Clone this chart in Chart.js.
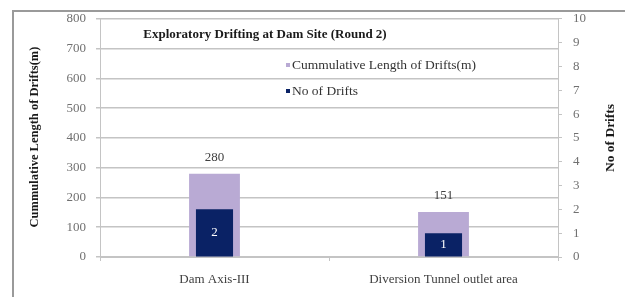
<!DOCTYPE html>
<html lang="en">
<head>
<meta charset="UTF-8">
<script src="https://cdn.jsdelivr.net/npm/chart.js@4.4.1/dist/chart.umd.min.js"></script>
<style>
  html, body { margin: 0; padding: 0; background: #fff; }
  #wrap { width: 625px; height: 297px; position: relative; }
</style>
</head>
<body>
<div id="wrap"><canvas id="chart" width="625" height="297"></canvas></div>
<script>
// chart data
const categories = ["Dam Axis-III", "Diversion Tunnel outlet area"];
const lengthLabel = "Cummulative Length of Drifts(m)";
const countLabel = "No of Drifts";
const lengthValues = [280, 151];
const countValues = [2, 1];
const leftTicks = [0, 100, 200, 300, 400, 500, 600, 700, 800];
const rightTicks = [0, 1, 2, 3, 4, 5, 6, 7, 8, 9, 10];
const chartTitle = "Exploratory Drifting at Dam Site (Round 2)";

const LIGHT = '#b9aad4';
const DARK = '#0a2265';
const GRID = '#c4c4c4';
const SERIF = '"Liberation Serif", "Times New Roman", serif';

const overlay = {
  id: 'overlay',
  beforeDraw(chart) {
    const ctx = chart.ctx;
    ctx.save();
    ctx.strokeStyle = '#9a9a9a';
    ctx.lineWidth = 2;
    ctx.beginPath();
    ctx.moveTo(13, 297);
    ctx.lineTo(13, 11);
    ctx.lineTo(625, 11);
    ctx.stroke();
    ctx.restore();
  },
  afterDatasetsDraw(chart) {
    const ctx = chart.ctx;
    ctx.save();
    ctx.textAlign = 'center';
    ctx.textBaseline = 'middle';
    // values above the light bars
    ctx.font = '13px ' + SERIF;
    ctx.fillStyle = '#404040';
    chart.getDatasetMeta(1).data.forEach((bar, i) => {
      ctx.fillText(String(lengthValues[i]), bar.x, bar.y - 16);
    });
    // counts inside the dark bars
    ctx.font = '13px ' + SERIF;
    ctx.fillStyle = '#ffffff';
    chart.getDatasetMeta(0).data.forEach((bar, i) => {
      ctx.fillText(String(countValues[i]), bar.x, (bar.y + bar.base) / 2);
    });
    ctx.restore();
  },
  afterDraw(chart) {
    const ctx = chart.ctx;
    ctx.save();
    ctx.fillStyle = '#1a1a1a';
    ctx.textBaseline = 'middle';
    // title
    ctx.textAlign = 'center';
    ctx.font = 'bold 13px ' + SERIF;
    ctx.fillText(chartTitle, 265, 35);
    // legend
    ctx.textAlign = 'left';
    ctx.font = '13.5px ' + SERIF;
    ctx.fillStyle = LIGHT;
    ctx.fillRect(286, 63, 4, 4);
    ctx.fillStyle = DARK;
    ctx.fillRect(286, 89, 4, 4);
    ctx.fillStyle = '#333';
    ctx.fillText(lengthLabel, 292, 65);
    ctx.fillText(countLabel, 292, 91);
    // axis titles
    ctx.font = 'bold 12.5px ' + SERIF;
    ctx.textAlign = 'center';
    ctx.fillStyle = '#1a1a1a';
    ctx.translate(35, 137);
    ctx.rotate(-Math.PI / 2);
    ctx.fillText(lengthLabel, 0, 0);
    ctx.restore();
    ctx.save();
    ctx.font = 'bold 13.5px ' + SERIF;
    ctx.textAlign = 'center';
    ctx.textBaseline = 'middle';
    ctx.fillStyle = '#1a1a1a';
    ctx.translate(611, 138);
    ctx.rotate(-Math.PI / 2);
    ctx.fillText(countLabel, 0, 0);
    ctx.restore();
  }
};

new Chart(document.getElementById('chart'), {
  type: 'bar',
  data: {
    labels: categories,
    datasets: [
      {
        label: countLabel,
        data: countValues,
        yAxisID: 'y2',
        backgroundColor: DARK,
        grouped: false,
        order: 0,
        categoryPercentage: 1,
        barPercentage: 0.162,
      },
      {
        label: lengthLabel,
        data: lengthValues,
        yAxisID: 'y',
        backgroundColor: LIGHT,
        grouped: false,
        order: 1,
        categoryPercentage: 1,
        barPercentage: 0.222,
      }
    ]
  },
  options: {
    responsive: false,
    animation: false,
    layout: { padding: { top: 18, left: 0, right: 0, bottom: 0 } },
    plugins: { legend: { display: false }, tooltip: { enabled: false } },
    scales: {
      x: {
        grid: { drawOnChartArea: false, color: GRID, tickLength: 4 },
        border: { color: GRID },
        ticks: { color: '#404040', font: { family: SERIF, size: 13 }, padding: 11 },
        afterFit: s => { s.height = 40; }
      },
      y: {
        position: 'left',
        min: 0, max: 800,
        afterBuildTicks: s => { s.ticks = leftTicks.map(v => ({ value: v })); },
        grid: { color: GRID, lineWidth: 1.5, tickLength: 4 },
        border: { color: GRID },
        ticks: { color: '#707070', font: { family: SERIF, size: 13 }, padding: 10 },
        afterFit: s => { s.width = 100; }
      },
      y2: {
        position: 'right',
        min: 0, max: 10,
        afterBuildTicks: s => { s.ticks = rightTicks.map(v => ({ value: v })); },
        grid: { drawOnChartArea: false, color: GRID, tickLength: 4 },
        border: { color: GRID },
        ticks: { color: '#707070', font: { family: SERIF, size: 13 }, padding: 11 },
        afterFit: s => { s.width = 67; }
      }
    }
  },
  plugins: [overlay]
});
</script>
</body>
</html>
